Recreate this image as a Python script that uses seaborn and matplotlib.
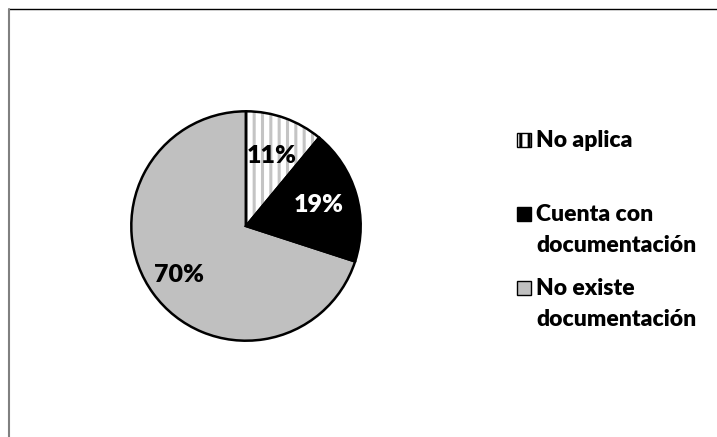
import matplotlib
matplotlib.use("Agg")
import matplotlib.pyplot as plt
import seaborn as sns
import numpy as np
from matplotlib.lines import Line2D
from matplotlib.patches import Rectangle

categories = ["No aplica", "Cuenta con\ndocumentación", "No existe\ndocumentación"]
values = [11, 19, 70]
pct_labels = ["11%", "19%", "70%"]

sns.set_theme(style="white")
plt.rcParams["font.family"] = ["Lato", "DejaVu Sans"]
plt.rcParams["hatch.linewidth"] = 2.2

W, H = 717, 437
fig = plt.figure(figsize=(W / 100, H / 100), dpi=100)
fig.patch.set_facecolor("white")

cx, cy, r = 246, 226, 117
ax = fig.add_axes([(cx - r) / W, (H - cy - r) / H, 2 * r / W, 2 * r / H])

colors = ["white", "black", "#c0c0c0"]
hatches = ["||", None, None]
wedges, _ = ax.pie(values, colors=colors, startangle=90, counterclock=False,
                   wedgeprops=dict(linewidth=0, edgecolor="#c4c4c4"))
for w, h in zip(wedges, hatches):
    if h:
        w.set_hatch(h)
outline, _ = ax.pie(values, startangle=90, counterclock=False,
                    wedgeprops=dict(fill=False, linewidth=1.8, edgecolor="black"))
ax.set_xlim(-1.02, 1.02)
ax.set_ylim(-1.02, 1.02)
ax.set_aspect("equal")
ax.axis("off")

start = 90.0
total = sum(values)
dists = [0.65, 0.66, 0.72]
tcolors = ["black", "white", "black"]
for v, lab, d, tc in zip(values, pct_labels, dists, tcolors):
    ang = start - v / total * 360 / 2
    start -= v / total * 360
    ax.text(d * np.cos(np.radians(ang)), d * np.sin(np.radians(ang)), lab,
            ha="center", va="center", fontsize=18, fontweight="heavy", color=tc)

def fx(px):
    return px / W

def fy(py):
    return 1 - py / H

step = 74
for i, (cat, col, h) in enumerate(zip(categories, colors, hatches)):
    base = 147 + i * step
    rect = Rectangle((fx(517), fy(base)), 14 / W, 14 / H, transform=fig.transFigure,
                     facecolor=col, edgecolor="black", linewidth=1.0, hatch=h)
    fig.add_artist(rect)
    fig.text(fx(536), fy(base - 17), cat, ha="left", va="top", fontsize=16.5,
             fontweight="heavy", color="black", linespacing=1.58)

fig.add_artist(Line2D([8.5 / W, 1], [1 - 9 / H, 1 - 9 / H], color="black", linewidth=1.0,
                      transform=fig.transFigure))
fig.add_artist(Line2D([8.5 / W, 8.5 / W], [0, 1 - 9 / H], color="#808080", linewidth=1.5,
                      transform=fig.transFigure))

fig.savefig("out.png", dpi=100)
